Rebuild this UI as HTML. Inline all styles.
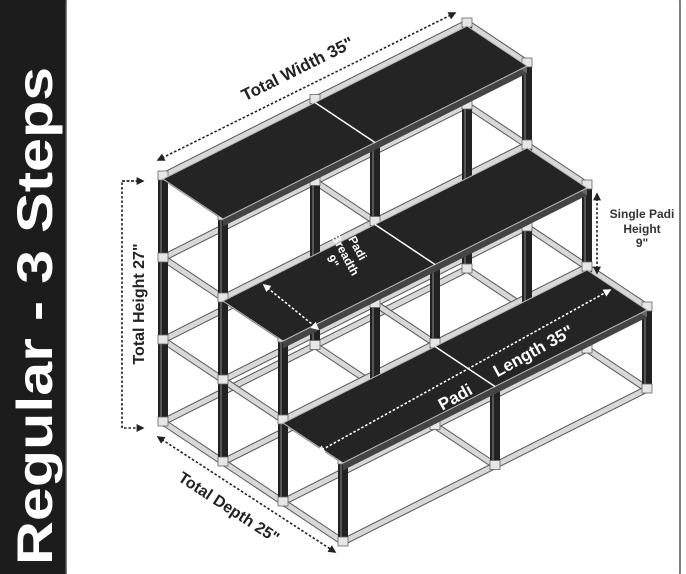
<!DOCTYPE html>
<html><head><meta charset="utf-8"><style>
html,body{margin:0;padding:0;background:#fff;}
#c{position:relative;width:686px;height:574px;overflow:hidden;background:#fff;font-family:"Liberation Sans",sans-serif;}
svg{position:absolute;left:0;top:0;}
</style></head><body><div id="c">
<svg id="s" width="686" height="574" viewBox="0 0 686 574">
<defs>
<marker id="ah" viewBox="0 0 10 10" refX="8" refY="5" markerWidth="5" markerHeight="5" orient="auto-start-reverse"><path d="M0,0 L10,5 L0,10 z" fill="#222"/></marker>
<marker id="aw" viewBox="0 0 10 10" refX="8" refY="5" markerWidth="5" markerHeight="5" orient="auto-start-reverse"><path d="M0,0 L10,5 L0,10 z" fill="#fff"/></marker>
</defs>
<rect x="0" y="0" width="72" height="574" fill="#1c1c1c"/>
<rect x="66" y="-10" width="614" height="594" rx="12" fill="#fff" stroke="#555" stroke-width="1.5"/>
<text transform="translate(52,316) rotate(-90) scale(1.22,1)" text-anchor="middle" font-family="Liberation Sans" font-weight="bold" font-size="50" fill="#fff">Regular - 3 Steps</text>
<g id="frame"></g>
<g id="boards"></g>
<g fill="none" stroke="#222" stroke-width="1.6" stroke-dasharray="2.5,2">
<line x1="158" y1="160" x2="455" y2="13" marker-start="url(#ah)" marker-end="url(#ah)"/>
<polyline points="143,181 122,181 122,428 143,428" marker-end="url(#ah)"/>
<line x1="122" y1="181" x2="143" y2="181" marker-end="url(#ah)"/>
<line x1="158" y1="437" x2="335" y2="552" marker-start="url(#ah)" marker-end="url(#ah)"/>
<line x1="597" y1="194" x2="597" y2="273" marker-start="url(#ah)" marker-end="url(#ah)"/>
</g>
<g fill="none" stroke="#fff" stroke-width="1.6" stroke-dasharray="2.5,2">
<line x1="264" y1="285" x2="318" y2="329" marker-start="url(#aw)" marker-end="url(#aw)"/>
<line x1="318" y1="452" x2="610" y2="290" marker-start="url(#aw)" marker-end="url(#aw)"/>
</g>
<g font-family="Liberation Sans" font-weight="bold">
<text transform="translate(300,74) rotate(-26.5)" text-anchor="middle" font-size="17" fill="#222">Total Width 35"</text>
<text transform="translate(144,304) rotate(-90)" text-anchor="middle" font-size="16" fill="#222">Total Height 27"</text>
<text transform="translate(226,512) rotate(33)" text-anchor="middle" font-size="16" fill="#222">Total Depth 25"</text>
<text x="642" y="218" text-anchor="middle" font-size="12" fill="#333">Single Padi</text>
<text x="642" y="233" text-anchor="middle" font-size="12" fill="#333">Height</text>
<text x="642" y="247" text-anchor="middle" font-size="12" fill="#333">9"</text>
<g transform="translate(354,250) rotate(62)" fill="#fff" font-size="12" text-anchor="middle">
<text x="0" y="0">Padi</text><text x="0" y="14">Breadth</text><text x="0" y="28">9"</text></g>
<text transform="translate(458,402) rotate(-29)" text-anchor="middle" font-size="17" fill="#fff">Padi</text>
<text transform="translate(536,356) rotate(-29)" text-anchor="middle" font-size="17" fill="#fff">Length 35"</text>
</g>
</svg>
<script>
(function(){
var NS="http://www.w3.org/2000/svg";
function P(w,d,z){return [163+304*w+60*d,425-153*w+40*d-82*z];}
function el(t,a,p){var e=document.createElementNS(NS,t);for(var k in a)e.setAttribute(k,a[k]);p.appendChild(e);return e;}
var F=document.getElementById("frame"),B=document.getElementById("boards");
var zmax=[3,3,2,1],dend=[3,3,2,1];
var items=[];
for(var z=0;z<=3;z++){
 for(var d=0;d<=3;d++){ if(zmax[d]>=z) items.push({k:"b",a:P(0,d,z),b:P(1,d,z),o:d*10+z});}
 [0,0.5,1].forEach(function(w){items.push({k:"b",a:P(w,0,z),b:P(w,dend[z],z),o:(1-w)*30+z});});
}
[1,0.5,0].forEach(function(w){for(var d=0;d<=3;d++){items.push({k:"p",a:P(w,d,0),b:P(w,d,zmax[d]),o:d*10+(1-w)*5+40});}});
items.sort(function(x,y){return x.o-y.o;});
items.forEach(function(it){
 if(it.k=="b"){
  el("line",{x1:it.a[0],y1:it.a[1]-3,x2:it.b[0],y2:it.b[1]-3,stroke:"#555","stroke-width":7},F);
  el("line",{x1:it.a[0],y1:it.a[1]-3,x2:it.b[0],y2:it.b[1]-3,stroke:"#d8d8d8","stroke-width":5},F);
 }else{
  el("line",{x1:it.a[0],y1:it.a[1],x2:it.b[0],y2:it.b[1],stroke:"#222","stroke-width":10},F);
  el("line",{x1:it.a[0]-2,y1:it.a[1],x2:it.b[0]-2,y2:it.b[1],stroke:"#555","stroke-width":2},F);
 }
});
[1,0.5,0].forEach(function(w){for(var d=0;d<=3;d++){for(var z=0;z<=zmax[d];z++){var p=P(w,d,z);el("rect",{x:p[0]-5,y:p[1]-8,width:10,height:9,fill:"#e6e6e6",stroke:"#666","stroke-width":0.8},F);}}});
[[0,3],[1,2],[2,1]].forEach(function(s){
 var d0=s[0],z=s[1],t=0.09;
 var a=P(0,d0,z),b=P(1,d0,z),c=P(1,d0+1,z),e=P(0,d0+1,z);
 var c2=P(1,d0+1,z-t),e2=P(0,d0+1,z-t),b2=P(1,d0,z-t);
 el("polygon",{points:[e,c,c2,e2].join(" "),fill:"#444"},B);
 el("polygon",{points:[b,c,c2,b2].join(" "),fill:"#666"},B);
 el("polygon",{points:[a,b,c,e].join(" "),fill:"#242424",stroke:"#bbb","stroke-width":1},B);
 var m1=P(0.5,d0,z),m2=P(0.5,d0+1,z);
 el("line",{x1:m1[0],y1:m1[1],x2:m2[0],y2:m2[1],stroke:"#fff","stroke-width":1.5},B);
});
})();
</script>
</div></body></html>
